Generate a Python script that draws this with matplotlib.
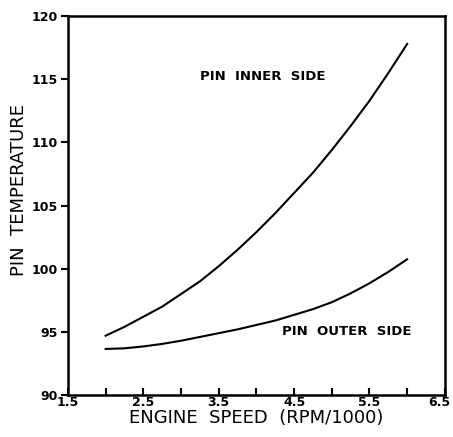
import matplotlib.pyplot as plt
import matplotlib.transforms as mtransforms
from matplotlib.ticker import MultipleLocator

# engine speed (RPM/1000)
speed = [2.0, 2.25, 2.5, 2.75, 3.0, 3.25, 3.5, 3.75, 4.0,
         4.25, 4.5, 4.75, 5.0, 5.25, 5.5, 5.75, 6.0]

# pin temperature
inner_side = [94.7, 95.4, 96.2, 97.0, 98.0, 99.0, 100.2, 101.5, 102.9,
              104.4, 106.0, 107.6, 109.4, 111.3, 113.3, 115.5, 117.8]
outer_side = [93.65, 93.7, 93.85, 94.05, 94.3, 94.6, 94.9, 95.2, 95.55,
              95.9, 96.35, 96.8, 97.35, 98.05, 98.85, 99.75, 100.75]

x_ticks = [1.5, 2.5, 3.5, 4.5, 5.5, 6.5]
y_ticks = [90, 95, 100, 105, 110, 115, 120]

fig = plt.figure(figsize=(4.53, 4.37), dpi=100)
ax = fig.add_axes([0.150, 0.096, 0.832, 0.867])

ax.plot(speed, inner_side, color='black', lw=1.5)
ax.plot(speed, outer_side, color='black', lw=1.5)

ax.text(4.09, 115.2, 'PIN  INNER  SIDE', ha='center', va='center',
        fontsize=9.5, fontweight='bold')
ax.text(5.2, 95.0, 'PIN  OUTER  SIDE', ha='center', va='center',
        fontsize=9.5, fontweight='bold')

ax.set_xlim(1.5, 6.5)
ax.set_ylim(90, 120)
ax.set_xticks(x_ticks)
ax.set_xticklabels([str(v) for v in x_ticks], fontsize=9, fontweight='bold')
ax.set_yticks(y_ticks)
ax.set_yticklabels([str(v) for v in y_ticks], fontsize=9, fontweight='bold')
ax.xaxis.set_minor_locator(MultipleLocator(0.5))

ax.tick_params(axis='x', which='both', direction='in', length=5, width=1.5, pad=1)
ax.tick_params(axis='y', direction='out', length=5, width=1.5, pad=2)

# last x label sits a bit inside the right edge, as in the original
last = ax.get_xticklabels()[-1]
last.set_transform(last.get_transform() +
                   mtransforms.ScaledTranslation(-6 / 100, 0, fig.dpi_scale_trans))

for s in ax.spines.values():
    s.set_linewidth(1.8)

ax.set_xlabel('ENGINE  SPEED  (RPM/1000)', fontsize=13, labelpad=0)
ax.set_ylabel('PIN  TEMPERATURE', fontsize=13)
ax.yaxis.set_label_coords(-0.105, 0.54)

fig.savefig('out.png', dpi=100)
